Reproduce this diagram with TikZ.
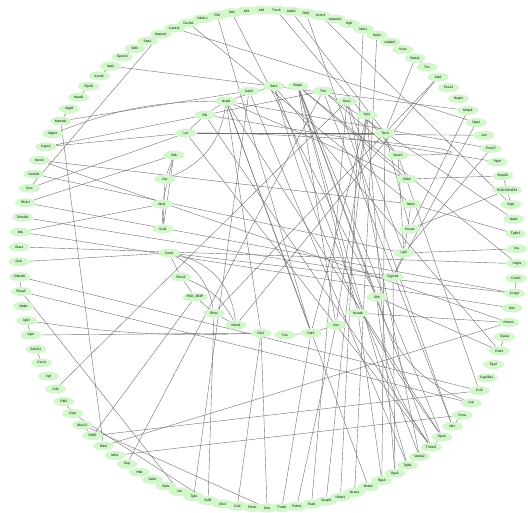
\documentclass[tikz,border=0pt]{standalone}
\usepackage{fontspec}
\setmainfont{Liberation Sans}
\usetikzlibrary{shapes.geometric, backgrounds}

\definecolor{genefill}{HTML}{D2F7CB}
\definecolor{edgegray}{HTML}{6E6E6E}

\begin{document}
\begin{tikzpicture}[
  x=1pt, y=-1pt,
  gene/.style={ellipse, fill=genefill, minimum width=21pt, minimum height=9pt,
               inner sep=0.5pt, font=\fontsize{3.3}{4}\selectfont},
  link/.style={draw=edgegray, line width=0.4pt}
]
\useasboundingbox (0,0) rectangle (528,512);

%
%  Layout:
%   outer ring : 105 genes, clockwise from the top,  r0 ... r104
%   inner ring :  31 genes, clockwise from Calcrl,   c0 ... c30
%

% --- outer ring ---
\foreach \lbl [count=\k from 0] in {Atf4, Tnrc6, Adrb2, Rbl1, Kcnn4, Adam23, Ngfr,
    Ntrk1, Kalrn, Adarb2, Vcan, Rab11, Tnc, Jak2, Pex13, Hspd1, Mmp9, Opa1, Jun,
    Prss27, Ptprt, Smpd3, RGD1564534, Nrgn, Nab1, Tgfbr3, Ina, Vegfa, Ccnb1, Ccng1,
    Bax, Hmox1, Top2a, Rnd1, Eya2, Cyp26a1, Ccl3, Lep, Pcna, Mt1, Gpx1, Tnfrsf4,
    Vamp2, Tgfb1, Rgs2, Rgs4, Nr4a1, Ncoa1, Nfatc1, Dusp6, Pax6, Prdm1, Prodh, Ctss,
    Prkcb, Csf2, Dlx3, Sulf1, Tgfa, Ncl, Rarb, Zeb2, Hbb, Dsp, Mtx1, Bdnf, Rdh5,
    Nkx2-2, Grpr, Rbl2, Cd2, Vgf, Cxcr4, Bcl2l11, Irgm, Igf2r, Ikbkb, Fbxw5, Cdkn1b,
    Gclc, Ifnar1, Ibtk, Tnfrsf1b, Pik3r1, Tesc, Csnk2b, Nrxn3, Capn2, Mgst1, Mamld1,
    Aqp8, Hand2, Zfp36, Kcnd2, Nat2, Gpsm2, Vldlr, Stat1, Nanos1, Card11, Cxcl10,
    Nkx6-1, Pfkl, Atm, Klf4}
  \node[gene] (r\k) at ({268+249*cos(91.5-\k*3.428571)}, {259-249*sin(91.5-\k*3.428571)}) {\lbl};

% --- inner ring ---
\foreach \lbl/\px/\py [count=\k from 0] in {Calcrl/249/91, Sdc1/274/86, Bmp2/298/86,
    Tlr4/323/91, Rac1/347/101, Syt1/367/115, Tbx3/385/133, Ncor2/398/155, Pdk4/407/179,
    Ntrk2/411/204, Hoxa1/410/229, Lgr5/404/253, Cyp1b1/393/277, Shh/377/297,
    Ncoa6/358/313, Vim/336/325, Cbr3/311/333, Fos/285/335, Ets1/261/333,
    Nr4a3/236/325, Rhoc/214/313, HSD\_3B4P/195/297, Fbxo2/181/277, Comt/169/253,
    Scd1/163/229, Mcl1/162/204, Gsr/165/179, Xdh/174/155, Lor/186/133, Bik/205/115,
    Ncald/226/101}
  \node[gene] (c\k) at (\px,\py) {\lbl};

% ---- Interactions ----
\begin{scope}[on background layer]

% neighbours on the outer ring
\foreach \a/\b in {r5/r6, r11/r12, r21/r22, r22/r23, r28/r29, r32/r33, r38/r39,
    r40/r41, r42/r43, r50/r51, r66/r67, r68/r69, r72/r73, r74/r75, r77/r78,
    r89/r90, r91/r92, r93/r94, r95/r96}
  \draw[link] (\a) -- (\b);

% chords across the outer ring
\foreach \a/\b in {r94/r16, r99/r17, r7/r48, r8/r47, r3/r39, r4/r23, r89/r65,
    r77/r59, r78/r36, r77/r37, r98/r84, r83/r29, r81/r30, r65/r31, r66/r36,
    r64/r38, r68/r57, r67/r53, r80/r27, r86/r31}
  \draw[link] (\a) -- (\b);

% outer ring -> inner ring
\foreach \a/\b in {r66/c21, r41/c28, r41/c29, r40/c30, r41/c2, r42/c1, r52/c16,
    r51/c15, r46/c30, r102/c16, r100/c9, r103/c13, r1/c7, r2/c6, r11/c6, r13/c19,
    r13/c20, r79/c23, r81/c25, r82/c12, r83/c27, r84/c28, r85/c11, r86/c9,
    r87/c28, r87/c29, r89/c0, r70/c4, r63/c3, r57/c20, r55/c18, r53/c18,
    r74/c18, r49/c5, r50/c4, r39/c3, r27/c2, r33/c1, r18/c28, r20/c29, r19/c30,
    r29/c23, r24/c3, r21/c8, r22/c10, r19/c11, r44/c12, r33/c13, r43/c2,
    r45/c14, r58/c0, r40/c2, r42/c4, r44/c5, r43/c0, r45/c6, r16/c10, r17/c12,
    r26/c11, r25/c9, r31/c14, r36/c7}
  \draw[link] (\a) -- (\b);

% inside the inner ring
\foreach \a/\b in {c25/c27, c26/c27, c24/c27, c24/c26, c24/c25, c22/c21, c21/c20,
    c20/c19, c22/c23, c16/c15, c17/c16, c30/c29, c29/c28, c30/c18, c30/c16,
    c30/c8, c1/c30, c2/c15, c2/c14, c2/c13, c2/c8, c3/c7, c3/c29, c4/c11,
    c5/c15, c5/c16, c6/c28, c6/c10, c7/c11, c9/c11, c11/c12}
  \draw[link] (\a) -- (\b);

% bent ones
\draw[link] (c28) to[out=0, in=0, looseness=1.6] (c7);
\draw[link] (c30) to[bend left=30] (c26);
\draw[link] (c23) to[bend left=25] (c20);
\draw[link] (c23) to[bend left=35] (c19);
\draw[link] (c22) to[bend left=20] (c19);
\draw[link] (c13) to[bend right=25] (r37);
\draw[link] (c13) to[bend right=15] (r41);
\draw[link] (r75) to[bend right=5] (c18);
\draw[link] (r88) to[bend left=10] (c30);
\draw[link] (c1) to[bend right=10] (r40);

\end{scope}

\end{tikzpicture}
\end{document}
